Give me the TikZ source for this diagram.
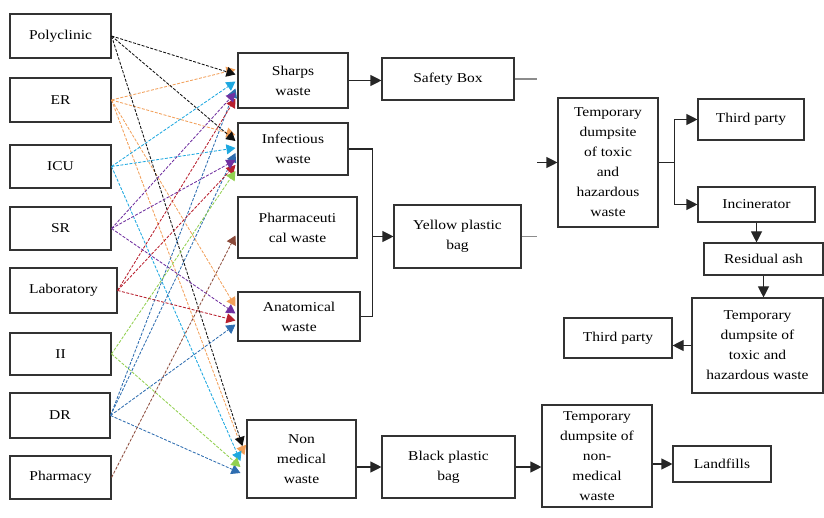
\documentclass[tikz,border=0pt]{standalone}
\usepackage{fontspec}
\setmainfont{Liberation Serif}[FakeStretch=1.15]
\usetikzlibrary{arrows.meta,calc}
\definecolor{cBk}{HTML}{111111}
\definecolor{cOr}{HTML}{F2A05A}
\definecolor{cCy}{HTML}{1EA8E0}
\definecolor{cPu}{HTML}{7030A0}
\definecolor{cRd}{HTML}{B8202E}
\definecolor{cGr}{HTML}{92D050}
\definecolor{cBl}{HTML}{2E6DB0}
\definecolor{cBr}{HTML}{8B4A3A}
\newcommand\mkbox[6]{\node[box,minimum width=#4pt,minimum height=#5pt] (#1) at (#2,#3) {#6};}
\begin{document}
\begin{tikzpicture}[x=1pt,y=-1pt,
  box/.style={draw=black!80,line width=1.1pt,fill=white,align=center,inner sep=1pt,
    font=\fontsize{13.5}{20}\selectfont},
  flow/.style={draw=black!85,line width=1.1pt,-{Triangle[length=11pt,width=11pt]}},
  plain/.style={draw=black!85,line width=1.1pt},
  stub/.style={draw=black!45,line width=1.1pt},
  lnk/.style={dash pattern=on 3pt off 1.5pt,line width=0.85pt,-{Triangle[length=9pt,width=10pt]}},
]
\useasboundingbox (0,0) rectangle (824,518);

% sources
\mkbox{poly}{60.5}{36}{101}{44}{Polyclinic}
\mkbox{er}{60.5}{100}{101}{44}{ER}
\mkbox{icu}{60.5}{166.5}{101}{43}{ICU}
\mkbox{sr}{60.5}{228.5}{101}{43}{SR}
\mkbox{lab}{63.5}{290.5}{107}{45}{Laboratory}
\mkbox{ii}{60.5}{354}{101}{42}{II}
\mkbox{dr}{60}{415.5}{100}{45}{DR}
\mkbox{pharm}{60.5}{477.5}{101}{43}{Pharmacy}

% waste types
\mkbox{sharps}{293}{80.5}{110}{55}{Sharps\\waste}
\mkbox{infect}{293}{149}{110}{52}{Infectious\\waste}
\mkbox{pharma}{297.5}{227.5}{119}{61}{Pharmaceuti\\cal waste}
\mkbox{anat}{299}{316.5}{122}{49}{Anatomical\\waste}
\mkbox{nonmed}{301.5}{459}{109}{78}{Non\\medical\\waste}

% containers
\mkbox{safety}{448}{79}{132}{42}{Safety Box}
\mkbox{yellow}{457.5}{236.5}{127}{63}{Yellow plastic\\bag}
\mkbox{black}{448.5}{467}{133}{62}{Black plastic\\bag}

% right part
\mkbox{tmp1}{608}{162.5}{100}{129}{Temporary\\dumpsite\\of toxic\\and\\hazardous\\waste}
\mkbox{tp1}{751}{119.5}{106}{41}{Third party}
\mkbox{incin}{756.5}{204.5}{117}{35}{Incinerator}
\mkbox{ash}{763.5}{259}{119}{32}{Residual ash}
\mkbox{tmp2}{757.5}{345.5}{131}{95}{Temporary\\dumpsite of\\toxic and\\hazardous waste}
\mkbox{tp2}{618}{338}{108}{40}{Third party}
\mkbox{tmpn}{597}{456}{110}{102}{Temporary\\dumpsite of\\non-\\medical\\waste}
\mkbox{land}{722}{464}{98}{36}{Landfills}

% coloured source links
\draw[lnk,color=cOr] (er.east) -- ($(sharps.west)+(-2,-11)$);
\draw[lnk,color=cOr] (er.east) -- ($(infect.west)+(-2,-14)$);
\draw[lnk,color=cOr] (er.east) -- ($(anat.west)+(-2,-10)$);
\draw[lnk,color=cOr] (er.east) -- ($(nonmed.west)+(-2,-4)$);
\draw[lnk,color=cBk] (poly.east) -- ($(sharps.west)+(-2,-6)$);
\draw[lnk,color=cBk] (poly.east) -- ($(infect.west)+(-2,-8)$);
\draw[lnk,color=cBk] (poly.east) -- ($(nonmed.west)+(-4,-13)$);
\draw[lnk,color=cCy] (icu.east) -- ($(sharps.west)+(-2,1)$);
\draw[lnk,color=cCy] (icu.east) -- ($(infect.west)+(-2,-1)$);
\draw[lnk,color=cCy] (icu.east) -- ($(nonmed.west)+(-6,2)$);
\draw[lnk,color=cBl] (dr.east) -- ($(sharps.west)+(-2,8)$);
\draw[lnk,color=cBl] (dr.east) -- ($(infect.west)+(-2,4)$);
\draw[lnk,color=cBl] (dr.east) -- ($(anat.west)+(-2,8)$);
\draw[lnk,color=cBl] (dr.east) -- ($(nonmed.west)+(-6,14)$);
\draw[lnk,color=cRd] (lab.east) -- ($(sharps.west)+(-2,18)$);
\draw[lnk,color=cRd] (lab.east) -- ($(infect.west)+(-2,16)$);
\draw[lnk,color=cRd] (lab.east) -- ($(anat.west)+(-2,4)$);
\draw[lnk,color=cPu] (sr.east) -- ($(sharps.west)+(-2,12)$);
\draw[lnk,color=cPu] (sr.east) -- ($(infect.west)+(-2,11)$);
\draw[lnk,color=cPu] (sr.east) -- ($(anat.west)+(-2,-3)$);
\draw[lnk,color=cGr] (ii.east) -- ($(infect.west)+(-2,22)$);
\draw[lnk,color=cGr] (ii.east) -- ($(nonmed.west)+(-6,8)$);
\draw[lnk,color=cBr] (pharm.east) -- ($(pharma.west)+(-2,8)$);

% flows
\draw[flow] (sharps.east) -- (sharps.east -| safety.west);
\draw[stub] (safety.east) -- ++(22,0) coordinate (s1);
\draw[stub] (yellow.east) -- ++(15,0) coordinate (s2);
\coordinate (s3) at (537,162.5);
\draw[flow] (s3) -- (tmp1.west);

\draw[plain] (infect.east) -- ++(24,0) coordinate (jt) -- (jt |- anat.east) -- (anat.east);
\draw[flow] (jt |- yellow.west) -- (yellow.west);

\draw[plain] (tmp1.east) -- ++(16,0) coordinate (sp);
\draw[flow] (sp) |- (tp1.west);
\draw[flow] (sp) |- (incin.west);
\draw[flow] (incin.south) -- (incin.south |- ash.north);
\draw[flow] (ash.south) -- (ash.south |- tmp2.north);
\draw[flow] (tmp2.west) -- (tmp2.west -| tp2.east);

\draw[flow] (nonmed.east |- black.west) -- (black.west);
\draw[flow] (black.east) -- (black.east -| tmpn.west);
\draw[flow] (tmpn.east |- land.west) -- (land.west);
\end{tikzpicture}
\end{document}
